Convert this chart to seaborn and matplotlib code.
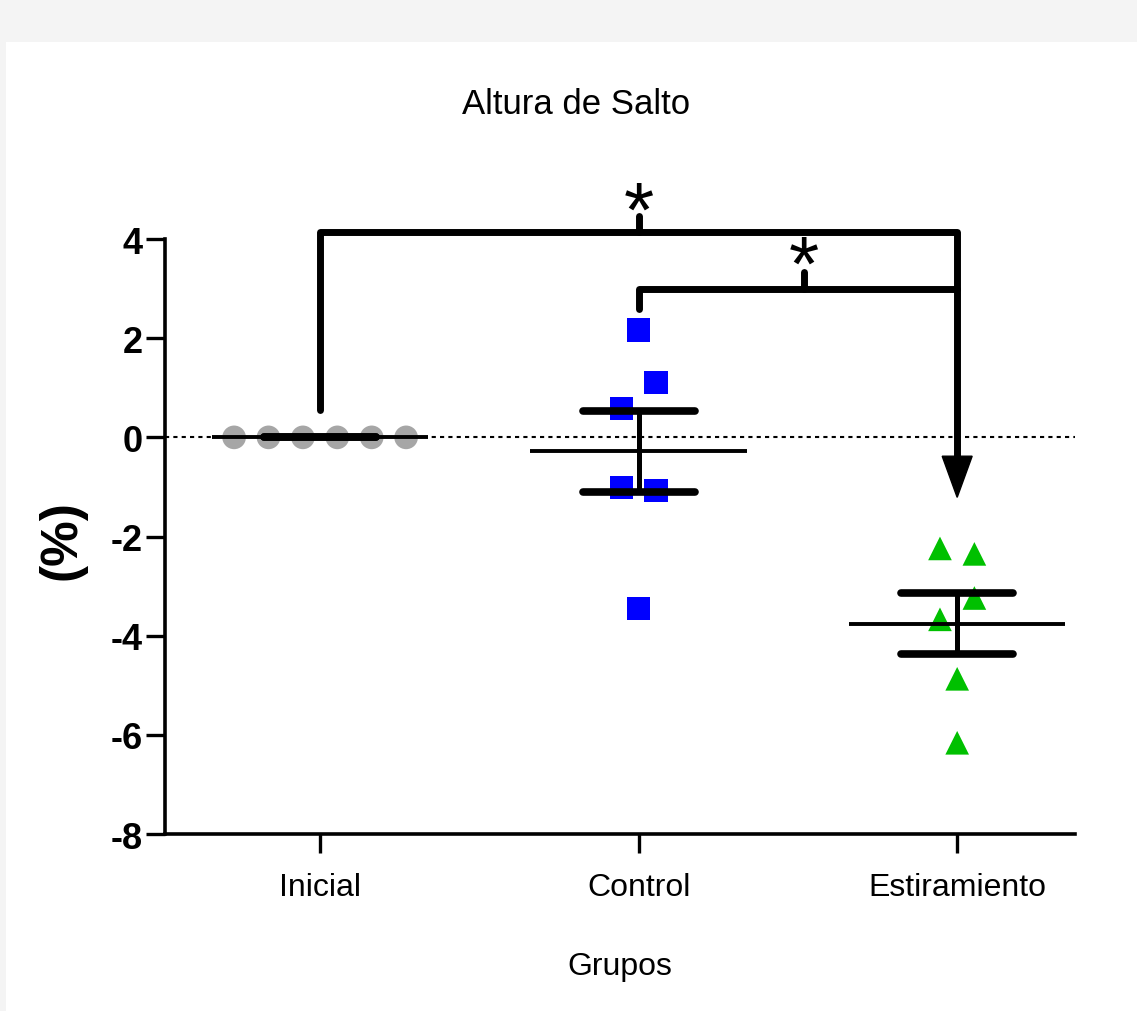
import numpy as np
import pandas as pd
import seaborn as sns
import matplotlib.pyplot as plt
from matplotlib.patches import Rectangle, Polygon

# valores (%)
grupos = ['Inicial', 'Control', 'Estiramiento']
inicial = [0, 0, 0, 0, 0, 0]
control = [2.16, 1.11, 0.58, -1.01, -1.07, -3.45]
estiramiento = [-2.24, -2.35, -3.24, -3.67, -4.87, -6.16]
# desplazamiento horizontal de cada punto (en anchos de marcador)
desp_inicial = [-5, -3, -1, 1, 3, 5]
desp_control = [0, 1, -1, -1, 1, 0]
desp_estiramiento = [-1, 1, 1, -1, 0, 0]

sns.set_style('ticks')
plt.rcParams['font.family'] = ['Liberation Sans', 'DejaVu Sans']
plt.rcParams['text.color'] = 'black'
plt.rcParams['axes.labelcolor'] = 'black'
plt.rcParams['xtick.color'] = 'black'
plt.rcParams['ytick.color'] = 'black'
plt.rcParams['axes.unicode_minus'] = False

df = pd.DataFrame({
    'grupo': ['Inicial'] * 6 + ['Control'] * 6 + ['Estiramiento'] * 6,
    'valor': inicial + control + estiramiento,
    'desp': desp_inicial + desp_control + desp_estiramiento,
})
pos = {g: i for i, g in enumerate(grupos)}
df['x'] = df['grupo'].map(pos) + df['desp'] * 0.054

fig = plt.figure(figsize=(11.37, 10.12), dpi=100)
fig.patch.set_facecolor('#f4f4f4')
fig.patches.append(Rectangle((6 / 1137, 0), 1, 1 - 43 / 1012, transform=fig.transFigure,
                             facecolor='white', edgecolor='none', zorder=-1))
ax = fig.add_axes([0.1451, 0.1749, 0.8004, 0.5879])
ax.set_facecolor('none')

ax.axhline(0, color='black', lw=1.5, ls=(0, (2, 2)), zorder=1)

sns.scatterplot(data=df, x='x', y='valor', hue='grupo', style='grupo',
                palette={'Inicial': '#a6a6a6', 'Control': '#0000ff', 'Estiramiento': '#00c000'},
                markers={'Inicial': 'o', 'Control': 's', 'Estiramiento': '^'},
                s=290, edgecolor='none', legend=False, ax=ax, zorder=2)

# media y error estandar
res = df.groupby('grupo')['valor'].agg(['mean', 'sem']).reindex(grupos)
for g, fila in res.iterrows():
    p = pos[g]
    m, e = fila['mean'], fila['sem']
    ax.hlines(m, p - 0.34, p + 0.34, color='black', lw=2.8, zorder=3)
    ax.hlines([m - e, m + e], p - 0.176, p + 0.176, color='black', lw=5.5,
              capstyle='round', zorder=3)
    ax.vlines(p, m - e, m + e, color='black', lw=3.6, zorder=3)

# corchetes de significancia
kw = dict(color='black', lw=5, clip_on=False, solid_capstyle='round',
          solid_joinstyle='round', zorder=4)
ax.plot([0, 0, 2, 2], [0.56, 4.15, 4.15, -0.5], **kw)
ax.plot([1, 1], [4.15, 4.46], **kw)
ax.plot([1, 1, 2], [2.58, 3.0, 3.0], **kw)
ax.plot([1.52, 1.52], [3.0, 3.33], **kw)
ax.add_patch(Polygon([(1.953, -0.38), (2.047, -0.38), (2, -1.21)], closed=True,
                     facecolor='black', edgecolor='black', lw=1, zorder=4, clip_on=False))
ax.text(1, 4.07, '*', fontsize=56, ha='center', va='baseline', clip_on=False, zorder=5)
ax.text(1.52, 2.98, '*', fontsize=56, ha='center', va='baseline', clip_on=False, zorder=5)

ax.set_xlim(-0.487, 2.37)
ax.set_ylim(-8, 4)
ax.set_yticks(range(-8, 5, 2))
ax.set_xticks(range(3))
ax.set_xticklabels(grupos, fontsize=23)
for t in ax.get_yticklabels():
    t.set_fontsize(26)
    t.set_fontweight('bold')
ax.tick_params(axis='both', length=14, width=2.4, color='black')
ax.tick_params(axis='x', pad=13)
ax.tick_params(axis='y', pad=2)
sns.despine(ax=ax)
for s in ['left', 'bottom']:
    ax.spines[s].set_linewidth(2.6)
    ax.spines[s].set_color('black')

ax.set_xlabel('Grupos', fontsize=23)
ax.xaxis.set_label_coords(0.5, -0.222)
ax.xaxis.label.set_va('center')
ax.set_ylabel('(%)', fontsize=37, fontweight='bold')
ax.yaxis.set_label_coords(-0.113, 0.496)
ax.yaxis.label.set_va('center')

fig.text(576 / 1137, 1 - 105 / 1012, 'Altura de Salto', fontsize=25,
         ha='center', va='center')

fig.savefig('out.png', dpi=100, facecolor=fig.get_facecolor())
